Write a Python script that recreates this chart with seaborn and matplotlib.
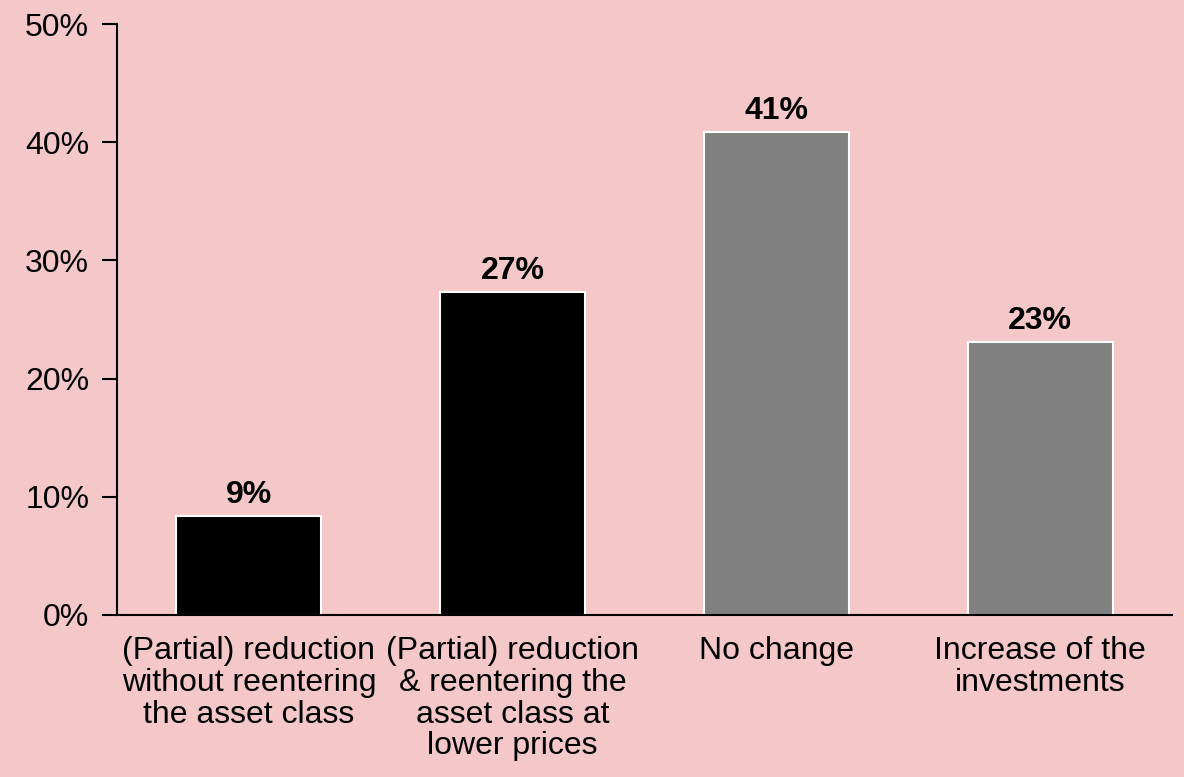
import matplotlib
matplotlib.use("Agg")
import matplotlib.pyplot as plt
import seaborn as sns
import pandas as pd

categories = ["(Partial) reduction\nwithout reentering\nthe asset class",
              "(Partial) reduction\n& reentering the\nasset class at\nlower prices",
              "No change",
              "Increase of the\ninvestments"]
values = [8.4, 27.3, 40.9, 23.1]
labels = ["9%", "27%", "41%", "23%"]
colors = ["#000000", "#000000", "#808080", "#808080"]
yticks = [0, 10, 20, 30, 40, 50]

sns.set_theme(style="ticks")
plt.rcParams['font.family'] = ['Liberation Sans', 'DejaVu Sans']
bg = "#F4C8C9"

fig = plt.figure(figsize=(11.84, 7.77), dpi=100, facecolor=bg)
ax = fig.add_axes([117/1184, 1 - 615/777, (1172-117)/1184, (615-24)/777])
ax.set_facecolor(bg)

df = pd.DataFrame({"cat": categories, "val": values})
sns.barplot(data=df, x="cat", y="val", hue="cat", palette=colors, legend=False,
            width=0.55, edgecolor="white", linewidth=1.5, ax=ax, saturation=1)

for i, (v, l) in enumerate(zip(values, labels)):
    ax.text(i, v + 0.5, l, ha="center", va="bottom", fontsize=23, fontweight="bold", color="black")

ax.set_xlim(-0.5, 3.5)
ax.set_ylim(0, 50)
ax.set_yticks(yticks)
ax.set_yticklabels([f"{t}%" for t in yticks], fontsize=23, color="black")
ax.tick_params(axis="y", length=11, width=1.5, color="black", pad=9)
ax.tick_params(axis="x", length=0, labelsize=23, labelcolor="black", pad=15)
for t in ax.get_xticklabels():
    t.set_linespacing(1.08)
ax.set_xlabel("")
ax.set_ylabel("")
for s in ["top", "right"]:
    ax.spines[s].set_visible(False)
for s in ["left", "bottom"]:
    ax.spines[s].set_linewidth(1.5)
    ax.spines[s].set_color("black")

fig.savefig("out.png", dpi=100, facecolor=bg)
